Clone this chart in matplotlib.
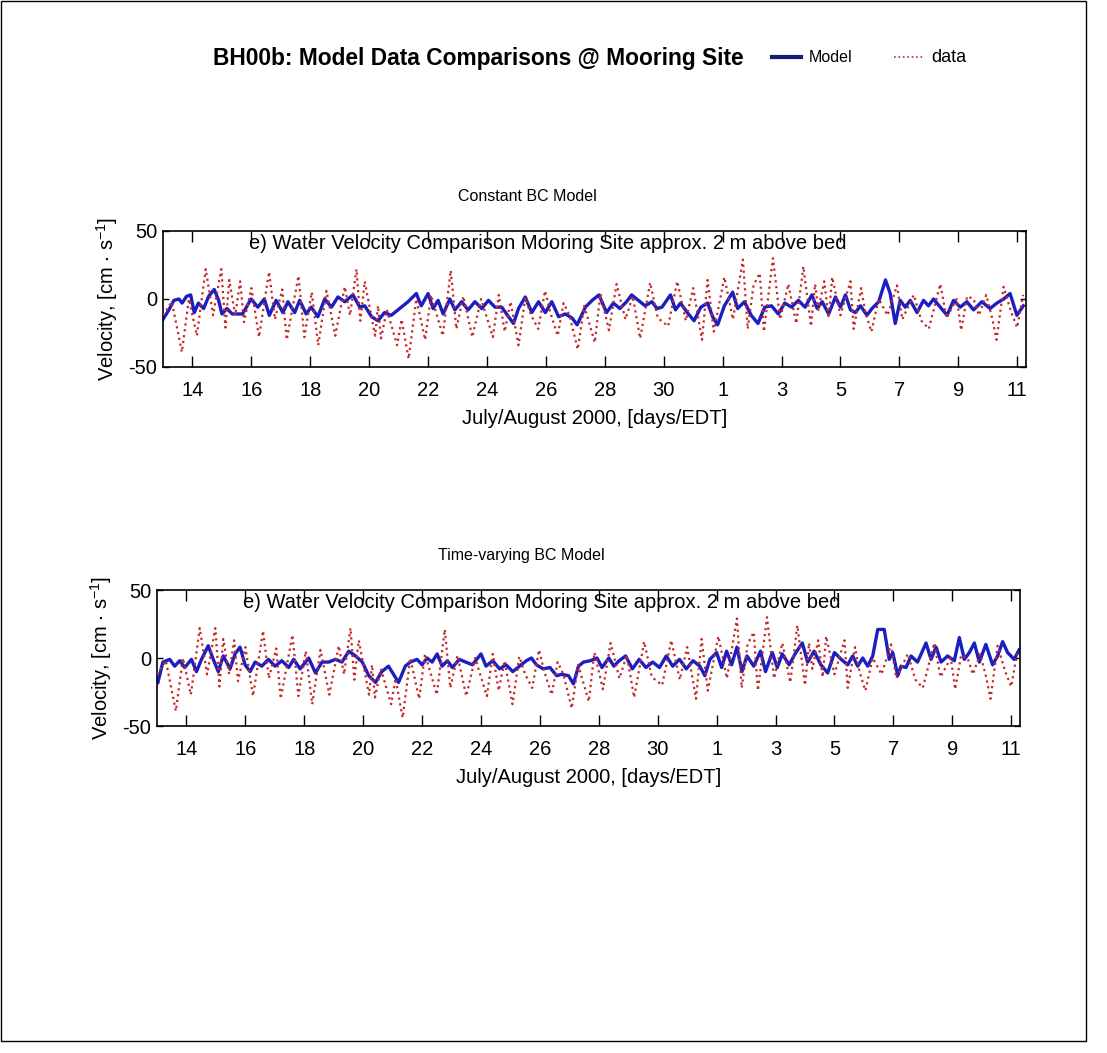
import matplotlib
matplotlib.use("Agg")
import matplotlib.pyplot as plt
from matplotlib.lines import Line2D
from matplotlib.patches import Rectangle

plt.rcParams['font.family'] = ['Liberation Sans', 'DejaVu Sans']
plt.rcParams['mathtext.default'] = 'regular'
plt.rcParams['axes.unicode_minus'] = False

# time axis in days from 1 July 2000 (August d -> 31 + d)
tick_days = [14, 16, 18, 20, 22, 24, 26, 28, 30, 32, 34, 36, 38, 40, 42]
tick_labels = ['14', '16', '18', '20', '22', '24', '26', '28', '30',
               '1', '3', '5', '7', '9', '11']

# model run with constant boundary conditions
const_days = [13.00, 13.20, 13.37, 13.54, 13.65, 13.80, 13.94, 14.06, 14.20, 14.38,
              14.55, 14.74, 14.89, 15.00, 15.17, 15.35, 15.50, 15.70, 15.99, 16.22,
              16.44, 16.61, 16.84, 17.07, 17.24, 17.47, 17.64, 17.86, 18.03, 18.26,
              18.49, 18.72, 18.94, 19.17, 19.45, 19.68, 19.85, 20.08, 20.30, 20.52,
              20.75, 21.09, 21.32, 21.60, 21.77, 22.00, 22.17, 22.34, 22.51, 22.74,
              22.91, 23.14, 23.36, 23.59, 23.82, 24.05, 24.27, 24.50, 24.73, 24.90,
              25.07, 25.30, 25.52, 25.75, 25.98, 26.20, 26.43, 26.66, 26.89, 27.06,
              27.34, 27.57, 27.80, 28.06, 28.29, 28.51, 28.74, 28.91, 29.14, 29.37,
              29.60, 29.77, 29.94, 30.23, 30.40, 30.57, 30.80, 31.03, 31.26, 31.49,
              31.66, 31.83, 32.06, 32.34, 32.51, 32.74, 32.97, 33.20, 33.43, 33.66,
              33.89, 34.11, 34.34, 34.57, 34.80, 35.03, 35.21, 35.38, 35.60, 35.83,
              36.00, 36.17, 36.34, 36.51, 36.68, 36.90, 37.07, 37.30, 37.53, 37.69,
              37.86, 38.03, 38.20, 38.37, 38.60, 38.82, 38.99, 39.16, 39.39, 39.62,
              39.84, 40.07, 40.29, 40.52, 40.80, 41.08, 41.31, 41.54, 41.76, 41.99,
              42.21]
const_vel = [-15, -8, -1, 0, -3, 2, 3, -10, -3, -7,
             2, 7, -1, -11, -7, -11, -11, -11, 0, -6,
             0, -12, -1, -10, -2, -10, -1, -11, -6, -13,
             0, -6, 1.5, -2, 3, -6, -5, -13, -16, -10,
             -12, -6, -2, 4, -5, 4, -7, -1, -11, 0,
             -8, -2, -8, -2, -7, -1, -6, -6, -13, -18,
             -7, 1.5, -10, -2, -10, -2, -13, -11, -14, -19,
             -6, -1, 3, -10, -3, -7, -2, 3, -1, -5,
             -2, -7, -6, 3, -8, -3, -10, -16, -6, -3,
             -13, -19, -5, 5, -7, -2, -12, -18, -6, -5,
             -11, -3, -6, -1, -6, 3, -7, -2, -11, 1.5,
             -6, 3, -8, -10, -5, -12, -7, -2, 14, 4,
             -18, -1, -6, -1, -10, -1, -5, 0, -6, -12,
             -1, -6, -2, -8, -2, -7, -3, 0, 4, -12,
             -5]

# model run with time-varying boundary conditions
tv_days = [13.03, 13.20, 13.43, 13.60, 13.77, 13.94, 14.17, 14.34, 14.51, 14.74,
           14.91, 15.08, 15.25, 15.48, 15.65, 15.82, 15.99, 16.16, 16.33, 16.56,
           16.78, 17.01, 17.24, 17.47, 17.64, 17.86, 18.15, 18.38, 18.60, 18.83,
           19.06, 19.28, 19.51, 19.74, 19.97, 20.19, 20.42, 20.63, 20.86, 21.03,
           21.20, 21.43, 21.60, 21.83, 22.00, 22.17, 22.34, 22.51, 22.68, 22.86,
           23.03, 23.26, 23.48, 23.71, 24.00, 24.17, 24.40, 24.63, 24.85, 25.08,
           25.31, 25.54, 25.71, 25.88, 26.11, 26.34, 26.57, 26.74, 26.97, 27.14,
           27.31, 27.48, 27.71, 27.94, 28.11, 28.34, 28.51, 28.69, 28.91, 29.14,
           29.37, 29.60, 29.83, 30.06, 30.29, 30.51, 30.74, 30.97, 31.20, 31.43,
           31.60, 31.77, 32.00, 32.17, 32.34, 32.51, 32.69, 32.86, 33.03, 33.26,
           33.49, 33.66, 33.89, 34.06, 34.23, 34.46, 34.69, 34.91, 35.09, 35.31,
           35.54, 35.77, 36.00, 36.23, 36.45, 36.62, 36.79, 36.96, 37.13, 37.30,
           37.47, 37.69, 37.86, 37.98, 38.15, 38.26, 38.43, 38.60, 38.82, 39.11,
           39.28, 39.45, 39.62, 39.84, 40.07, 40.24, 40.41, 40.58, 40.75, 40.92,
           41.14, 41.37, 41.54, 41.71, 41.88, 42.10, 42.27]
tv_vel = [-18, -3, -1, -6, -2, -7, -1, -10, -1, 9,
          -1, -10, 1.5, -8, 3, 8, -5, -10, -3, -6,
          -1, -6, -2, -7, -1, -8, 0, -11, -3, -3,
          -1, -3, 5, 1.5, -3, -13, -18, -10, -6, -12,
          -18, -6, -3, -1, -5, 0, -3, 3, -6, -2,
          -7, -1, -3, -5, 3, -6, -2, -8, -5, -10,
          -6, -2, 0, -5, -8, -7, -13, -12, -13, -19,
          -6, -3, -2, 0, -7, 0, -6, -2, 1.5, -8,
          -1, -7, -3, -7, 1.5, -6, -1, -8, -2, -6,
          -13, -1, 4, -7, 5, -5, 8, -10, 1.5, -6,
          5, -10, 4, -7, 3, -5, 4, 11, -3, 5,
          -5, -11, 4, -1, -5, 1.5, -6, 0, -6, 1.5,
          21, 21, -1, 4, -13, -6, -7, 1.5, -3, 11,
          -1, 8, -3, 1.5, -2, 15, -1, 4, 11, -3,
          10, -5, 1.5, 12, 4, -1, 6]

# mooring observations
obs_days = [13.00, 13.30, 13.64, 13.88, 14.15, 14.45, 14.70, 14.98, 15.12, 15.25,
            15.45, 15.62, 15.75, 16.00, 16.26, 16.60, 16.80, 17.05, 17.20, 17.60,
            17.80, 18.05, 18.27, 18.55, 18.85, 19.17, 19.35, 19.57, 19.70, 19.85,
            20.05, 20.20, 20.30, 20.40, 20.60, 20.95, 21.10, 21.34, 21.60, 21.90,
            22.10, 22.50, 22.77, 22.96, 23.20, 23.50, 23.80, 24.20, 24.40, 24.60,
            24.80, 25.07, 25.30, 25.50, 25.74, 25.97, 26.15, 26.40, 26.60, 26.80,
            27.08, 27.30, 27.66, 27.85, 28.14, 28.40, 28.70, 28.95, 29.20, 29.54,
            29.80, 30.15, 30.46, 30.75, 31.00, 31.30, 31.49, 31.70, 32.06, 32.35,
            32.69, 32.85, 33.05, 33.26, 33.40, 33.71, 33.95, 34.23, 34.50, 34.74,
            35.00, 35.14, 35.25, 35.45, 35.60, 35.72, 36.00, 36.34, 36.45, 36.70,
            36.85, 37.05, 37.30, 37.60, 37.92, 38.10, 38.49, 38.75, 39.00, 39.39,
            39.60, 39.95, 40.10, 40.30, 40.52, 40.70, 40.95, 41.15, 41.30, 41.54,
            41.80, 42.00, 42.20]
obs_vel = [-12, -2, -39, 0, -27, 22, -12, 22, -21, 14,
           -12, 13, -17, 8, -28, 20, -15, 7, -30, 17,
           -28, 5, -34, 6, -27, 9, -12, 22, -16, 13,
           -10, -27, -5, -29, -8, -34, -15, -44, 0, -30,
           3, -27, 21, -22, 2, -28, 0, -28, 3, -24,
           -2, -34, 1, -12, -22, 6, -10, -27, -3, -12,
           -37, -5, -32, 4, -23, 11, -15, 2, -29, 12,
           -14, -20, 13, -16, 8, -30, 14, -24, 16, -15,
           29, -22, 10, 19, -24, 30, -15, 11, -18, 24,
           -20, 11, -8, 13, -14, 16, -12, 13, -22, 8,
           -10, -24, 0, -12, 10, -15, 3, -16, -22, 11,
           -14, 0, -23, 2, 0, -12, 3, -14, -30, 9,
           -10, -21, 3]

MODEL_COLOR = '#1a1fc0'
DATA_COLOR = '#c42828'

W, H = 1107, 1053
fig = plt.figure(figsize=(W / 100, H / 100), dpi=100)

# thin frame around the whole page
fig.add_artist(Rectangle((1 / W, 1 - 1041 / H), 1085 / W, 1040 / H,
                         transform=fig.transFigure, fill=False,
                         edgecolor='black', linewidth=1.0))


def panel(left, top, model_days, model_vel, title):
    ax = fig.add_axes([left / W, 1 - (top + 136) / H, 863 / W, 136 / H])
    ax.plot(model_days, model_vel, color=MODEL_COLOR, linewidth=2.4, zorder=2)
    ax.plot(obs_days, obs_vel, color=DATA_COLOR, linestyle=':', linewidth=1.6, zorder=3)
    ax.set_xlim(13.0, 42.3)
    ax.set_ylim(-50, 50)
    ax.set_xticks(tick_days)
    ax.set_xticklabels(tick_labels)
    ax.set_yticks([-50, 0, 50])
    ax.tick_params(axis='x', direction='in', length=8, width=1.0, labelsize=14.5,
                   pad=10, top=True)
    ax.tick_params(axis='y', direction='in', length=4.5, width=1.0, labelsize=14.5,
                   pad=4, right=True)
    for s in ax.spines.values():
        s.set_linewidth(1.2)
    ax.set_xlabel('July/August 2000, [days/EDT]', fontsize=14.5)
    ax.xaxis.set_label_coords(0.5, -0.31)
    ax.set_ylabel(r'Velocity, [cm $\cdot$ s$^{-1}$]', fontsize=14.5)
    ax.yaxis.set_label_coords(-0.05, 0.5)
    ax.text(0.422, 1.257, title, transform=ax.transAxes, ha='center',
            va='center', fontsize=11.5)
    ax.text(0.1, 0.91, 'e) Water Velocity Comparison Mooring Site approx. 2 m above bed',
            transform=ax.transAxes, ha='left', va='center', fontsize=14.5)
    return ax


panel(163, 231, const_days, const_vel, 'Constant BC Model')
panel(157, 590, tv_days, tv_vel, 'Time-varying BC Model')

fig.text(213 / W, 1 - 58 / H, 'BH00b: Model Data Comparisons @ Mooring Site',
         ha='left', va='center', fontsize=16.4, fontweight='bold')

model_key = Line2D([], [], color='#141c78', linewidth=3.0)
data_key = Line2D([], [], color=DATA_COLOR, linestyle=':', linewidth=1.2)
leg = fig.legend([model_key, data_key], ['Model', 'data'], loc='center left',
                 bbox_to_anchor=(758 / W, 1 - 58 / H), ncol=2, frameon=False,
                 fontsize=11.5, handlelength=1.8, handletextpad=0.5,
                 columnspacing=2.6)
leg.get_texts()[1].set_fontsize(13)

fig.savefig('out.png', dpi=100)
